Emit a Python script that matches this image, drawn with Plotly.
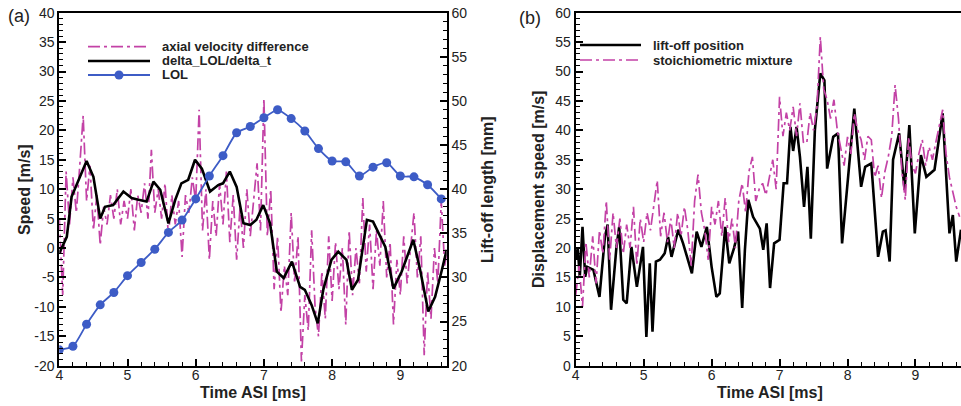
import plotly.graph_objects as go

W, H = 961, 406

# ---------------- panel (a) ----------------
# axial velocity difference, sampled every 0.05 ms from 4.0 ms
axial_vel_diff = [
    5, -8, 13, 4, 12, 6, 14, 22.5, 8, 14,
    3, 9, 0.5, 7, 4, 9, 5, 10, 4, 8,
    5, 10, 3, 9, 6, 11, 5, 16.7, 6, 10,
    5, 11, 2, 9, 4, 8, -1.5, 9, 6, 12,
    8, 23.5, 3, 10, -2, 8, 2, 11, 4, 13,
    1, 9, -2, 7, 0, 10, 2, 8, 14.4, 3,
    25.4, 2, 10, -7, 2, -11, -3, -8, 6, -6,
    2, -19.3, -8, -14, 3, -10, -15, -4, -12, 2,
    -9, 1, -7, 0, -13, 3, -8, 0, -6, 8.5,
    -4, 4, -7, 3, -3, 8, -5, 1, -13, -2,
    -8, 2, -6, 0, 6, -5, 2, -18.2, -4, -12,
    0, -6, 8, -3, 0,
]

dlol_t = [4.00, 4.11, 4.18, 4.28, 4.40, 4.50, 4.60, 4.67, 4.79, 4.94,
          5.06, 5.16, 5.28, 5.38, 5.48, 5.60, 5.70, 5.79, 5.89, 5.99,
          6.09, 6.21, 6.33, 6.40, 6.50, 6.60, 6.70, 6.80, 6.89, 6.99,
          7.09, 7.19, 7.29, 7.41, 7.53, 7.60, 7.70, 7.79, 7.87, 7.99,
          8.09, 8.21, 8.29, 8.38, 8.51, 8.60, 8.78, 8.90, 9.02, 9.19,
          9.29, 9.41, 9.51, 9.61, 9.68]
dlol_dt = [-0.9, 1.9, 8.7, 11.6, 14.8, 12.1, 5.0, 7.0, 7.3, 9.6,
           8.5, 8.2, 7.9, 11.3, 9.9, 4.2, 8.2, 11.0, 11.6, 15.0,
           13.5, 9.6, 10.7, 11.0, 13.0, 10.4, 4.2, 3.9, 4.8, 7.3,
           4.2, -4.0, -5.1, -2.3, -6.6, -7.1, -9.7, -12.8, -7.1, -2.0,
           -0.6, -2.0, -7.1, -5.4, 4.8, 4.5, 0.2, -6.9, -4.0, 1.4,
           -3.7, -10.8, -8.3, -3.7, -0.3]

# lift-off length, every 0.2 ms from 4.0 ms
lol_mm = [21.8, 22.2, 24.7, 26.9, 28.3, 30.2, 31.7, 33.2, 35.1, 36.5,
          38.9, 41.5, 43.8, 46.4, 47.1, 48.1, 49.0, 48.0, 46.6, 44.6,
          43.2, 43.1, 41.5, 42.5, 43.0, 41.5, 41.4, 40.5, 38.9]

# ---------------- panel (b) ----------------
liftoff_t = [4.00, 4.03, 4.06, 4.10, 4.14, 4.17, 4.26, 4.35, 4.43, 4.47,
             4.52, 4.60, 4.64, 4.70, 4.75, 4.82, 4.90, 4.99, 5.04, 5.09,
             5.13, 5.18, 5.24, 5.31, 5.36, 5.41, 5.51, 5.58, 5.71, 5.78,
             5.85, 5.93, 6.00, 6.07, 6.12, 6.20, 6.26, 6.33, 6.39, 6.45,
             6.49, 6.54, 6.61, 6.71, 6.76, 6.81, 6.86, 6.92, 7.00, 7.06,
             7.11, 7.16, 7.20, 7.25, 7.30, 7.36, 7.41, 7.46, 7.52, 7.60,
             7.66, 7.70, 7.79, 7.86, 7.92, 8.10, 8.20, 8.26, 8.35, 8.38,
             8.45, 8.52, 8.56, 8.62, 8.67, 8.76, 8.84, 8.91, 8.99, 9.08,
             9.16, 9.28, 9.40, 9.50, 9.55, 9.60, 9.67]
liftoff_speed = [18.0, 20.0, 15.1, 23.6, 15.1, 16.8, 16.3, 11.7, 21.9, 24.0,
                 9.5, 20.2, 23.6, 11.2, 10.6, 20.2, 13.4, 20.2, 4.9, 17.4,
                 5.8, 17.7, 18.0, 19.1, 21.9, 18.5, 23.1, 20.8, 15.7, 22.8,
                 20.2, 23.6, 16.8, 11.7, 12.3, 23.6, 17.4, 20.0, 22.8, 9.8,
                 19.7, 28.2, 25.3, 23.3, 19.7, 24.2, 13.2, 20.8, 21.4, 31.0,
                 31.0, 40.6, 36.5, 40.6, 35.5, 27.0, 33.8, 21.6, 40.1, 49.7,
                 48.5, 33.5, 38.9, 39.5, 20.8, 43.7, 30.4, 33.8, 34.4, 30.0,
                 18.5, 22.8, 23.0, 17.7, 35.0, 39.5, 29.9, 40.9, 22.5, 35.8,
                 32.1, 33.3, 42.9, 22.5, 25.6, 17.7, 23.1]

# stoichiometric mixture, every 0.05 ms from 4.0 ms
stoich_speed = [
    12, 17, 10, 21, 15, 22, 14, 23, 19, 28,
    18, 26, 20, 25, 19, 24, 20, 27, 17, 25,
    21, 26, 23, 27, 31.5, 22, 26, 21, 25, 20,
    26, 22, 27, 23, 17, 28, 32.5, 26, 23, 18,
    27, 24, 28, 22, 28.5, 21, 25, 20, 28, 31,
    26, 33, 35.5, 28, 30, 31, 29, 32, 35, 30,
    45.7, 39, 43, 40, 44, 39, 44.6, 38, 37.8, 43,
    40, 44, 55.9, 47, 45.2, 42, 45.2, 40, 37, 34,
    38.9, 36, 42.9, 40, 38.4, 35, 39, 38.4, 32, 34,
    28.5, 33, 35.5, 39, 47.7, 42, 33, 28.2, 38.9, 34,
    32.7, 36, 38.4, 34, 37.2, 35, 38, 41, 43.5, 36,
    32, 29.5, 27, 25.3,
]

speed_ticks = [-20, -15, -10, -5, 0, 5, 10, 15, 20, 25, 30, 35, 40]
speed_ticktext = ["-20", "-15", "-10", "-5", "0", "5", "10", "15", "20", "25", "30", "35", "40"]

legend_a = ["axial velocity difference", "delta_LOL/delta_t", "LOL"]
legend_b = ["lift-off position", "stoichiometric mixture"]

MAGENTA = "#c342a6"
BLUE = "#3d5cc6"
DASHDOT = "12px,4px,3px,4px"
FONT = "Liberation Sans, Arial, sans-serif"
TXT = "#222"


def px(x):
    return x / W


def py(y):
    return 1 - y / H


fig = go.Figure()

fig.add_trace(go.Scatter(
    y=axial_vel_diff, x0=4.0, dx=0.05, mode="lines", name=legend_a[0],
    line=dict(color=MAGENTA, width=1.7, dash=DASHDOT), xaxis="x", yaxis="y",
))
fig.add_trace(go.Scatter(
    x=dlol_t, y=dlol_dt, mode="lines", name=legend_a[1],
    line=dict(color="black", width=2.6), xaxis="x", yaxis="y",
))
fig.add_trace(go.Scatter(
    y=lol_mm, x0=4.0, dx=0.2, mode="lines+markers", name=legend_a[2],
    line=dict(color=BLUE, width=1.8, shape="spline", smoothing=0.6),
    marker=dict(color=BLUE, size=9), xaxis="x", yaxis="y2",
))
fig.add_trace(go.Scatter(
    x=liftoff_t, y=liftoff_speed, mode="lines", name=legend_b[0],
    line=dict(color="black", width=2.6), xaxis="x2", yaxis="y3",
))
fig.add_trace(go.Scatter(
    y=stoich_speed, x0=4.0, dx=0.05, mode="lines", name=legend_b[1],
    line=dict(color=MAGENTA, width=1.7, dash=DASHDOT), xaxis="x2", yaxis="y3",
))

ydom = [py(365.7), py(12.7)]
minor_y = dict(dtick=1, ticklen=4, ticks="inside", tickcolor="black", tickwidth=1)
minor_x = dict(dtick=0.2, ticklen=4, ticks="inside", tickcolor="black", tickwidth=1)
axis_common = dict(
    showline=True, linecolor="black", linewidth=2, ticks="inside", ticklen=7, tickwidth=1.5,
    tickcolor="black", showgrid=False, zeroline=False, automargin=False,
    tickfont=dict(family=FONT, size=14, color=TXT),
)

fig.update_layout(
    width=W, height=H,
    margin=dict(l=0, r=0, t=0, b=0, pad=0),
    paper_bgcolor="white", plot_bgcolor="white",
    font=dict(family=FONT, color=TXT),
    showlegend=False,
    xaxis=dict(domain=[px(59.3), px(446.7)], range=[4, 9.68], anchor="y", dtick=1, tick0=4,
               mirror=True, minor=minor_x, ticklabelstandoff=-5, **axis_common),
    yaxis=dict(domain=ydom, range=[-20, 40], anchor="x", tickvals=speed_ticks,
               ticktext=speed_ticktext, minor=minor_y, **axis_common),
    yaxis2=dict(overlaying="y", side="right", range=[20, 60], anchor="x", dtick=5,
                minor=minor_y, **axis_common),
    xaxis2=dict(domain=[px(575.7), 1.0], range=[4, 9.67], anchor="y3", dtick=1, tick0=4,
                mirror=True, minor=minor_x, ticklabelstandoff=-5, **axis_common),
    yaxis3=dict(domain=ydom, range=[0, 60], anchor="x2", dtick=5, minor=minor_y, **axis_common),
)

# hand-drawn legends (Tecplot style: long line samples, tight rows)
shapes = []
annotations = []
leg_font = dict(family=FONT, size=13, color=TXT, weight="bold")


def legend_row(x0, x1, y, text, color, width, dash="solid", marker=False):
    shapes.append(dict(type="line", xref="paper", yref="paper", x0=px(x0), x1=px(x1),
                       y0=py(y), y1=py(y), line=dict(color=color, width=width, dash=dash)))
    if marker:
        c = (x0 + x1) / 2
        shapes.append(dict(type="circle", xref="paper", yref="paper", x0=px(c - 4.5), x1=px(c + 4.5),
                           y0=py(y + 4.5), y1=py(y - 4.5), fillcolor=color, line=dict(color=color, width=0)))
    annotations.append(dict(text=text, x=px(x1 + 10), y=py(y), xanchor="left", yanchor="middle",
                            showarrow=False, font=leg_font))


legend_row(88, 150, 46.7, legend_a[0], MAGENTA, 1.7, DASHDOT)
legend_row(88, 150, 61, legend_a[1], "black", 2.6)
legend_row(88, 150, 75, legend_a[2], BLUE, 1.8, marker=True)
legend_row(580, 641, 45, legend_b[0], "black", 2.6)
legend_row(580, 641, 60, legend_b[1], MAGENTA, 1.7, DASHDOT)

title_font = dict(family=FONT, size=16, color=TXT, weight="bold")
annotations += [
    dict(text="(a)", x=px(6), y=py(16), xanchor="left", yanchor="middle", showarrow=False,
         font=dict(family=FONT, size=18, color=TXT)),
    dict(text="(b)", x=px(517), y=py(18), xanchor="left", yanchor="middle", showarrow=False,
         font=dict(family=FONT, size=18, color=TXT)),
    dict(text="Time ASI [ms]", x=px(253), y=py(392), xanchor="center", yanchor="middle",
         showarrow=False, font=title_font),
    dict(text="Time ASI [ms]", x=px(770), y=py(392), xanchor="center", yanchor="middle",
         showarrow=False, font=title_font),
    dict(text="Speed [m/s]", x=px(24), y=py(190), xanchor="center", yanchor="middle",
         textangle=-90, showarrow=False, font=title_font),
    dict(text="Lift-off length [mm]", x=px(487), y=py(190), xanchor="center", yanchor="middle",
         textangle=-90, showarrow=False, font=title_font),
    dict(text="Displacement speed [m/s]", x=px(538), y=py(190), xanchor="center", yanchor="middle",
         textangle=-90, showarrow=False, font=title_font),
]
for a in annotations:
    a.update(xref="paper", yref="paper")
fig.update_layout(shapes=shapes, annotations=annotations)

# the page body's default 8px margin would push the figure off the window
fig.write_html("out.html", config={"displayModeBar": False},
               post_script="document.body.style.margin = '0px';")
